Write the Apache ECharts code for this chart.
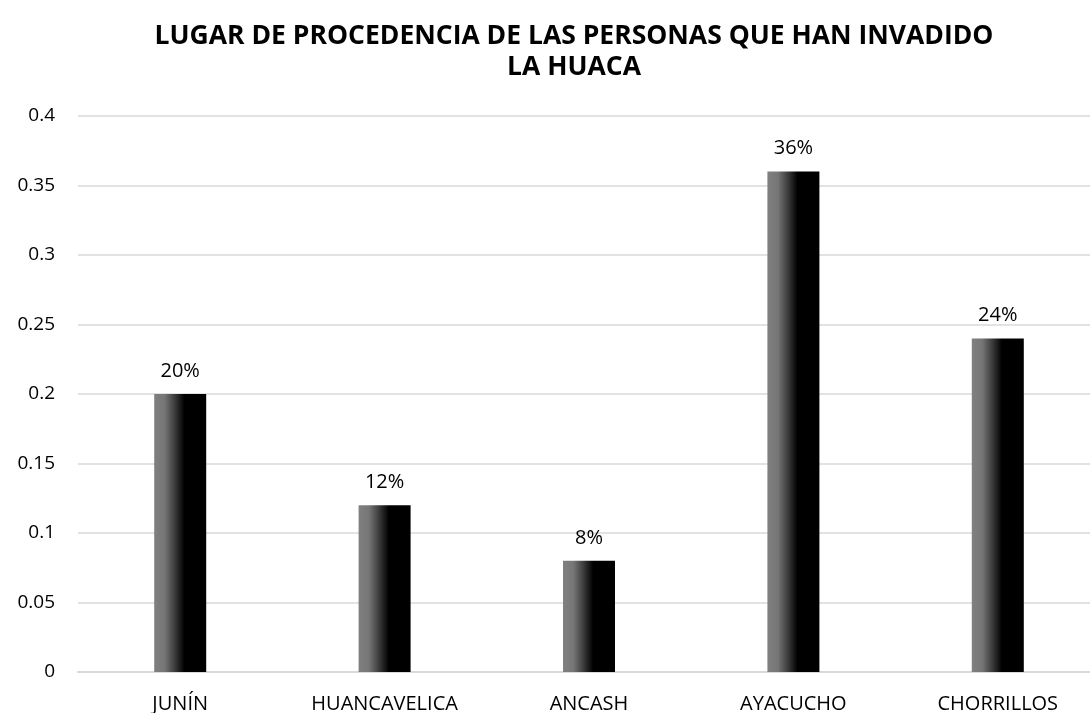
<!DOCTYPE html>
<html>
<head>
<meta charset="utf-8">
<script src="https://cdn.jsdelivr.net/npm/echarts@6/dist/echarts.min.js"></script>
<style>
  html, body { margin: 0; padding: 0; background: #fff; }
  #chart { width: 1090px; height: 713px; }
</style>
</head>
<body>
<div id="chart"></div>
<script>
const categories = ['JUNÍN', 'HUANCAVELICA', 'ANCASH', 'AYACUCHO', 'CHORRILLOS']
const values = [0.2, 0.12, 0.08, 0.36, 0.24]
const yTicks = [0, 0.05, 0.1, 0.15, 0.2, 0.25, 0.3, 0.35, 0.4]

const chart = echarts.init(document.getElementById('chart'))

// grey-to-black sheen across each bar
const barGradient = new echarts.graphic.LinearGradient(0, 0, 1, 0, [
  { offset: 0, color: '#808080' },
  { offset: 0.2, color: '#767676' },
  { offset: 0.4, color: '#3a3a3a' },
  { offset: 0.58, color: '#000000' },
  { offset: 1, color: '#000000' }
])

chart.setOption({
  animation: false,
  textStyle: { fontFamily: 'Open Sans, sans-serif' },
  title: {
    text: 'LUGAR DE PROCEDENCIA DE LAS PERSONAS QUE HAN INVADIDO\nLA HUACA',
    left: 569,
    textAlign: 'center',
    top: 16,
    textStyle: {
      fontSize: 26.5,
      fontWeight: 'bold',
      color: '#000',
      lineHeight: 31,
      fontFamily: 'Open Sans, sans-serif'
    }
  },
  grid: { left: 78, top: 116, right: -10, bottom: 41, outerBoundsMode: 'none' },
  xAxis: {
    type: 'category',
    data: categories,
    axisTick: { show: false },
    axisLine: { lineStyle: { color: '#d9d9d9', width: 2 } },
    axisLabel: { color: '#000', fontSize: 20, margin: 22 }
  },
  yAxis: {
    type: 'value',
    min: yTicks[0],
    max: yTicks[yTicks.length - 1],
    interval: 0.05,
    axisLine: { show: false },
    axisTick: { show: false },
    splitLine: { lineStyle: { color: '#d9d9d9', width: 1.5 } },
    axisLabel: {
      color: '#000',
      fontSize: 19,
      margin: 23,
      formatter: v => String(parseFloat(v.toFixed(2)))
    }
  },
  series: [{
    type: 'bar',
    data: values,
    barWidth: 52,
    itemStyle: { color: barGradient },
    label: {
      show: true,
      position: 'top',
      distance: 13,
      color: '#000',
      fontSize: 20,
      formatter: p => Math.round(p.value * 100) + '%'
    }
  }]
})
</script>
</body>
</html>
